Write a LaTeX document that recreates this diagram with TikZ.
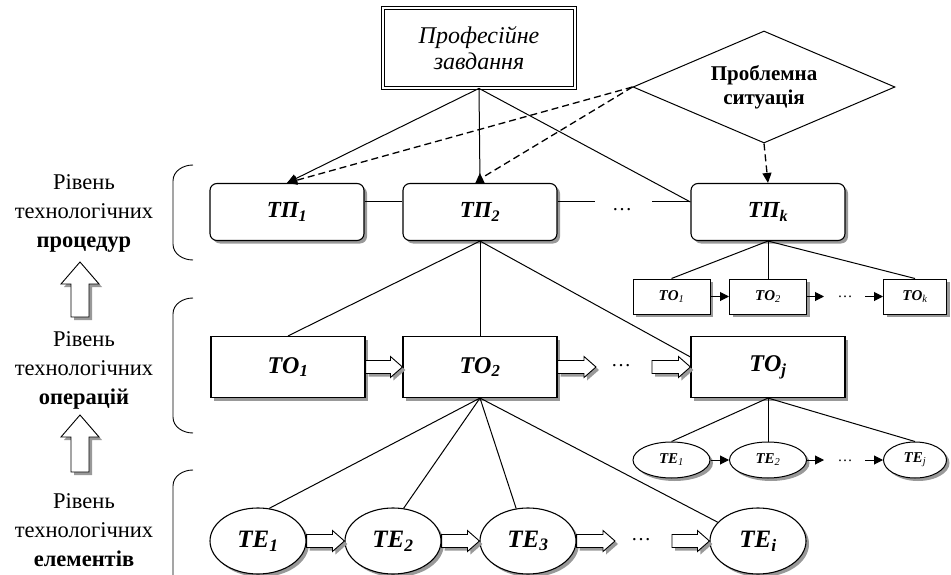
\documentclass[tikz,border=0pt]{standalone}
\usepackage{fontspec}
\setmainfont{Liberation Serif}
\usepackage{tikz}
\usetikzlibrary{arrows.meta,positioning,calc,shapes.geometric,shadows}

% hollow block arrow from #1 to #2: shaft half width #3, head half width #4, head length #5
\newcommand{\hollowlink}[5]{%
  \coordinate (hb) at ($(#2)!#5!(#1)$);
  \filldraw[hollow] ($(#1)!#3!90:(#2)$) -- ($(hb)!#3!-90:(#1)$)
    -- ($(hb)!#4!-90:(#1)$) -- (#2) -- ($(hb)!#4!90:(#1)$)
    -- ($(hb)!#3!90:(#1)$) -- ($(#1)!#3!-90:(#2)$) -- cycle;}
\newcommand{\flowarrow}[2]{\hollowlink{#1}{#2}{6.5pt}{10.5pt}{12pt}}
\newcommand{\levelarrow}[2]{\hollowlink{#1}{#2}{9pt}{19pt}{22pt}}

\begin{document}
\begin{tikzpicture}[x=1pt, y=-1pt,
  dropsh/.style={drop shadow={shadow xshift=3pt, shadow yshift=-3pt,
                 fill=black!40, opacity=1}},
  task/.style={draw, double, double distance=1.6pt, line width=0.8pt,
               fill=white, minimum width=192pt, minimum height=80pt,
               align=center, font=\fontsize{24}{26}\selectfont\itshape},
  problem/.style={diamond, draw, line width=1pt, aspect=2.34, inner sep=0pt,
                  minimum width=262pt, minimum height=112pt, align=center,
                  font=\fontsize{21}{24}\selectfont\bfseries},
  proc/.style={draw, line width=1.1pt, rounded corners=7pt, fill=white,
               minimum width=154pt, minimum height=57pt, dropsh,
               font=\fontsize{23}{27}\selectfont\bfseries\itshape},
  oper/.style={proc, rounded corners=0pt, minimum height=61pt,
               font=\fontsize{24}{28}\selectfont\bfseries\itshape},
  elem/.style={ellipse, draw, line width=1.1pt, fill=white, dropsh,
               minimum width=96pt, minimum height=66pt, inner sep=0pt,
               font=\fontsize{25}{28}\selectfont\bfseries\itshape},
  soper/.style={draw, line width=1pt, fill=white, dropsh, inner sep=0pt,
                minimum width=77pt, minimum height=35pt,
                font=\fontsize{15}{18}\selectfont\bfseries\itshape},
  selem/.style={soper, ellipse, minimum height=36pt},
  level/.style={align=center, font=\fontsize{22.5}{29}\selectfont},
  dots/.style={inner sep=0pt, font=\fontsize{20}{24}\selectfont},
  sdots/.style={dots, font=\fontsize{15}{18}\selectfont},
  hollow/.style={draw, line width=0.9pt, fill=white, dropsh,
                 line join=miter},
  arrow/.style={-{Triangle[length=10pt, width=9pt]}, line width=1pt},
  revarrow/.style={-{Triangle[length=10pt, width=9pt, reversed]},
                   line width=1pt},
  sarrow/.style={-{Triangle[length=9pt, width=9pt]}, line width=1pt},
  dashlink/.style={line width=1.3pt, dash pattern=on 7pt off 4pt},
  dasharrow/.style={arrow, dashlink},
  link/.style={line width=1pt},
  brace/.style={line width=0.9pt},
]
  \useasboundingbox (0,0) rectangle (951,575);

  % Top nodes
  \node[task] (task) at (479,48) {Професійне\\завдання};
  \node[problem] (probl) at (764,87) {Проблемна\\ситуація};

  % Procedures
  \node[proc] (tp1) at (287,212) {ТП\textsubscript{1}};
  \node[proc] (tp2) at (480,212) {ТП\textsubscript{2}};
  \node[proc] (tpk) at (768,212) {ТП\textsubscript{\textit{k}}};
  \node[dots] (dp) at (622,210) {\dots};

  % Small operations
  \node[soper] (so1) at (671.5,296.5) {ТО\textsubscript{\mdseries 1}};
  \node[soper] (so2) at (768,296.5) {ТО\textsubscript{\mdseries 2}};
  \node[soper, minimum width=63pt] (sok) at (915,296.5)
    {ТО\textsubscript{\mdseries\itshape k}};
  \node[sdots] (dso) at (845,297) {\dots};

  % Operations
  \node[oper] (to1) at (288,367) {ТО\textsubscript{1}};
  \node[oper] (to2) at (480,367) {ТО\textsubscript{2}};
  \node[oper] (toj) at (768,367) {ТО\textsubscript{\textit{j}}};
  \node[dots] (do) at (621,366) {\dots};

  % Small elements
  \node[selem] (se1) at (671.5,460) {ТЕ\textsubscript{\mdseries 1}};
  \node[selem] (se2) at (768,460) {ТЕ\textsubscript{\mdseries 2}};
  \node[selem, minimum width=63pt] (sej) at (915,460)
    {ТЕ\textsubscript{\mdseries\itshape j}};
  \node[sdots] (dse) at (845,461) {\dots};

  % Elements
  \node[elem] (te1) at (258,541) {ТЕ\textsubscript{1}};
  \node[elem] (te2) at (393,541) {ТЕ\textsubscript{2}};
  \node[elem] (te3) at (528,541) {ТЕ\textsubscript{3}};
  \node[elem] (tei) at (758,541) {ТЕ\textsubscript{\textit{i}}};
  \node[dots] (de) at (641,540) {\dots};

  % Levels
  \node[level] (lv1) at (84,213) {Рівень\\технологічних\\\textbf{процедур}};
  \node[level] (lv2) at (84,370) {Рівень\\технологічних\\\textbf{операцій}};
  \node[level] (lv3) at (84,530) {Рівень\\технологічних\\\textbf{елементів}};

  % Brackets
  \draw[brace] (193,165) to[out=180,in=90] (173,181) -- (173,244)
    to[out=-90,in=180] (193,260);
  \draw[brace] (193,298) to[out=180,in=90] (173,314) -- (173,417)
    to[out=-90,in=180] (193,433);
  \draw[brace] (193,470) to[out=180,in=90] (173,486) -- (173,580);

  % Task and problem links
  \draw[arrow] (task.south) -- (tp1.north);
  \draw[revarrow] (task.south) -- (tp2.north);
  \draw[link] (task.south) -- ([yshift=10pt]tpk.west);
  \draw[dasharrow] (probl.west) -- (tp1.north);
  \draw[dashlink] (probl.west) -- ([yshift=4pt]tp2.north);
  \draw[dasharrow] (probl.south) -- (tpk.north);

  % Procedure chain
  \coordinate (p2e) at (595,202);
  \coordinate (pkw) at (652,202);
  \draw[link] ([yshift=10pt]tp1.east) -- ([yshift=10pt]tp2.west);
  \draw[link] ([yshift=10pt]tp2.east) -- (p2e);
  \draw[link] (pkw) -- ([yshift=10pt]tpk.west);

  % Procedure to operations
  \draw[link] (tp2.south) -- (to1.north);
  \draw[link] (tp2.south) -- (to2.north);
  \draw[link] (tp2.south) -- ([yshift=10pt]toj.west);
  \draw[link] (tpk.south) -- (so1.north);
  \draw[link] (tpk.south) -- (so2.north);
  \draw[link] (tpk.south) -- (sok.north);

  % Small operation chain
  \coordinate (so2e) at (824,296.5);
  \coordinate (sokw) at (865,296.5);
  \draw[sarrow] (so1) -- (so2);
  \draw[sarrow] (so2) -- (so2e);
  \draw[sarrow] (sokw) -- (sok);

  % Operation chain
  \coordinate (o2e) at (596,367);
  \coordinate (ojw) at (652,367);
  \flowarrow{to1.east}{to2.west}
  \flowarrow{to2.east}{o2e}
  \flowarrow{ojw}{toj.west}

  % Operations to elements
  \draw[link] (to2.south) -- (te1.71);
  \draw[link] (to2.south) -- (te2.72);
  \draw[link] (to2.south) -- (te3.110);
  \draw[link] (to2.south) -- (tei.155);
  \draw[link] (toj.south) -- (se1.north);
  \draw[link] (toj.south) -- (se2.north);
  \draw[link] (toj.south) -- (sej.north);

  % Small element chain
  \coordinate (se2e) at (824,460);
  \coordinate (sejw) at (865,460);
  \draw[sarrow] (se1) -- (se2);
  \draw[sarrow] (se2) -- (se2e);
  \draw[sarrow] (sejw) -- (sej);

  % Element chain
  \coordinate (e3e) at (615,541);
  \coordinate (eiw) at (672,541);
  \flowarrow{te1.east}{te2.west}
  \flowarrow{te2.east}{te3.west}
  \flowarrow{te3.east}{e3e}
  \flowarrow{eiw}{tei.west}

  % Level arrows
  \coordinate (u1s) at (80,317);
  \coordinate (u1t) at (80,262);
  \coordinate (u2s) at (80,472);
  \coordinate (u2t) at (80,415);
  \levelarrow{u1s}{u1t}
  \levelarrow{u2s}{u2t}
\end{tikzpicture}
\end{document}
